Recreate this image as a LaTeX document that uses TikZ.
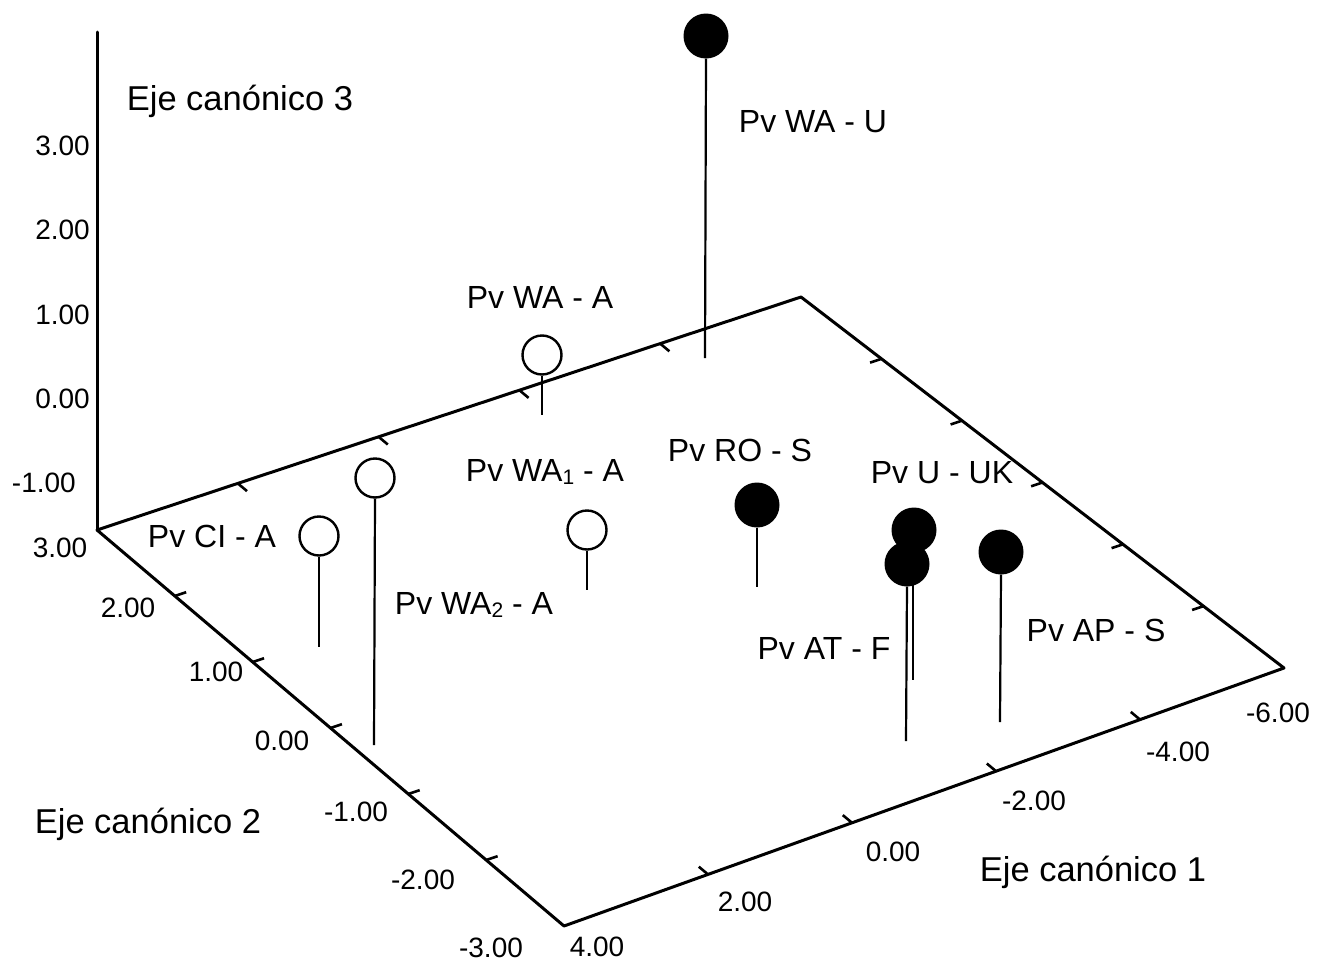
\documentclass[tikz,border=0pt]{standalone}
\usepackage{fontspec}
\setmainfont{Liberation Sans}
\usetikzlibrary{calc}
\newcommand{\subdig}[1]{\raisebox{-3.5pt}{\fontsize{21}{21}\selectfont #1}}
\tikzset{
  axisline/.style={line width=3pt, line join=round, line cap=round},
  tickmark/.style={line width=2.6pt},
  stemline/.style={line width=2.2pt},
  openpt/.style={circle, draw, line width=2.4pt, fill=white, minimum size=39pt, inner sep=0pt},
  fullpt/.style={circle, fill=black, minimum size=45pt, inner sep=0pt},
  lab/.style={font=\fontsize{32}{36}\selectfont, inner sep=0pt},
  num/.style={font=\fontsize{28}{32}\selectfont, inner sep=0pt},
  ttl/.style={font=\fontsize{34.5}{38}\selectfont, inner sep=0pt}
}
\begin{document}
\begin{tikzpicture}[x=1pt, y=-1pt]
\useasboundingbox[fill=white] (0,0) rectangle (1318,964);
% frame corners
\coordinate (Top) at (97,32);
\coordinate (A) at (97,530);
\coordinate (B) at (801,297);
\coordinate (C) at (1284,668);
\coordinate (D) at (564,926);
\draw[axisline] (Top) -- (A);
\draw[axisline] (A) -- (B) -- (C) -- (D) -- cycle;
% ticks
\foreach \k in {0.2,0.4,0.6,0.8} {
  \draw[tickmark] ($(A)!\k!(B)$) -- ++(9.2,7.7);
  \draw[tickmark] ($(D)!\k!(C)$) -- ++(-9.2,-7.7);
}
\foreach \k in {1,...,5} {
  \draw[tickmark] ($(B)!\k/6!(C)$) -- ++(-11.4,3.8);
  \draw[tickmark] ($(A)!\k/6!(D)$) -- ++(11.4,-3.8);
}
% axis titles
\node[ttl] (t3) at (240,101) {Eje canónico 3};
\node[ttl] (t2) at (148,824) {Eje canónico 2};
\node[ttl] (t1) at (1093,872) {Eje canónico 1};
% vertical axis numbers
\node[num, anchor=east] (z3) at (90,146) {3.00};
\node[num, anchor=east] (z2) at (90,230) {2.00};
\node[num, anchor=east] (z1) at (90,315) {1.00};
\node[num, anchor=east] (z0) at (90,399) {0.00};
\node[num, anchor=east] (zm1) at (76,483) {-1.00};
% axis 2 numbers
\node[num] (y3) at (60,548) {3.00};
\node[num] (y2) at (128,608) {2.00};
\node[num] (y1) at (216,672) {1.00};
\node[num] (y0) at (282,741) {0.00};
\node[num] (ym1) at (356,812) {-1.00};
\node[num] (ym2) at (423,880) {-2.00};
\node[num] (ym3) at (491,948) {-3.00};
% axis 1 numbers
\node[num] (x4) at (597,947) {4.00};
\node[num] (x2) at (745,902) {2.00};
\node[num] (x0) at (893,852) {0.00};
\node[num] (xm2) at (1034,801) {-2.00};
\node[num] (xm4) at (1178,752) {-4.00};
\node[num] (xm6) at (1278,713) {-6.00};
% points
\node[fullpt] (wau) at (706,36) {};
\node[openpt] (waa) at (542,355) {};
\node[openpt] (wa1) at (587,530) {};
\node[openpt] (wa2) at (375,478) {};
\node[openpt] (cia) at (319,536) {};
\node[fullpt] (ros) at (757,505) {};
\node[fullpt] (uuk) at (914,530) {};
\node[fullpt] (atf) at (907,564) {};
\node[fullpt] (aps) at (1001,552) {};
% stem ends
\coordinate (ewau) at (705,358);
\coordinate (ewaa) at (542,415);
\coordinate (ewa1) at (587,590);
\coordinate (ewa2) at (374,745);
\coordinate (ecia) at (319,647);
\coordinate (eros) at (757,587);
\coordinate (euuk) at (913,680);
\coordinate (eatf) at (906,741);
\coordinate (eaps) at (1000,722);
\draw[stemline] (wau.south) -- (ewau);
\draw[stemline] (waa.south) -- (ewaa);
\draw[stemline] (wa1.south) -- (ewa1);
\draw[stemline] (wa2.south) -- (ewa2);
\draw[stemline] (cia.south) -- (ecia);
\draw[stemline] (ros.south) -- (eros);
\draw[stemline] (uuk.south) ++(-1,0) -- (euuk);
\draw[stemline] (atf.south) -- (eatf);
\draw[stemline] (aps.south) -- (eaps);
% labels
\node[lab] (lwau) at (813,122) {Pv WA - U};
\node[lab] (lwaa) at (540,297) {Pv WA - A};
\node[lab] (lwa1) at (545,472) {Pv WA\subdig{1} - A};
\node[lab] (lwa2) at (474,605) {Pv WA\subdig{2} - A};
\node[lab] (lcia) at (212,536) {Pv CI - A};
\node[lab] (lros) at (740,450) {Pv RO - S};
\node[lab] (luuk) at (942,473) {Pv U - UK};
\node[lab] (latf) at (824,648) {Pv AT - F};
\node[lab] (laps) at (1096,630) {Pv AP - S};
\end{tikzpicture}
\end{document}
